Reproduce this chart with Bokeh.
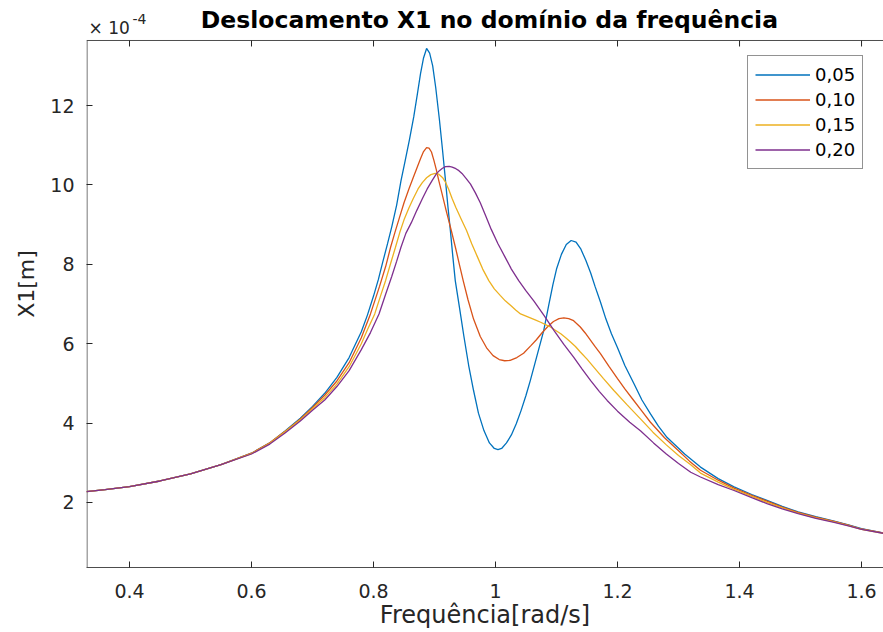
from bokeh.plotting import figure
from bokeh.models import Label, Legend, LegendItem, FixedTicker, Range1d
from bokeh.embed import file_html
from bokeh.resources import INLINE

# Frequency [rad/s] and amplitude of X1 (in units of 1e-4 m) for each damping ratio
freq_005 = [0.3295, 0.36, 0.40, 0.45, 0.50, 0.55, 0.60, 0.63, 0.655, 0.68, 0.70, 0.72, 0.74, 0.76,
            0.78, 0.79, 0.80, 0.808, 0.815, 0.823, 0.830, 0.838, 0.845, 0.852, 0.859, 0.866,
            0.872, 0.877, 0.882, 0.887, 0.892, 0.897, 0.902, 0.908, 0.913, 0.918, 0.922, 0.926,
            0.930, 0.934, 0.941, 0.948, 0.956, 0.964, 0.972, 0.981, 0.990, 0.998, 1.004, 1.010,
            1.018, 1.026, 1.034, 1.042, 1.050, 1.057, 1.068, 1.079, 1.087, 1.094, 1.100, 1.108,
            1.116, 1.124, 1.132, 1.140, 1.148, 1.156, 1.163, 1.172, 1.181, 1.190, 1.200, 1.212,
            1.227, 1.240, 1.254, 1.267, 1.281, 1.310, 1.336, 1.365, 1.391, 1.420, 1.445, 1.470,
            1.496, 1.525, 1.555, 1.580, 1.600, 1.636]
x1_005 = [2.27, 2.32, 2.40, 2.54, 2.72, 2.95, 3.24, 3.50, 3.80, 4.12, 4.42, 4.75, 5.15, 5.65,
          6.30, 6.72, 7.20, 7.62, 8.05, 8.52, 8.95, 9.50, 10.10, 10.62, 11.15, 11.72,
          12.30, 12.80, 13.20, 13.44, 13.32, 13.00, 12.45, 11.65, 10.90, 10.11, 9.45, 8.85,
          8.20, 7.59, 6.90, 6.20, 5.45, 4.82, 4.25, 3.81, 3.50, 3.36, 3.33, 3.36,
          3.50, 3.70, 3.98, 4.32, 4.70, 5.07, 5.70, 6.33, 6.95, 7.48, 7.88, 8.25,
          8.50, 8.60, 8.56, 8.38, 8.10, 7.78, 7.45, 7.05, 6.62, 6.25, 5.90, 5.45,
          4.99, 4.58, 4.23, 3.92, 3.64, 3.22, 2.89, 2.60, 2.39, 2.20, 2.05, 1.90,
          1.76, 1.64, 1.53, 1.43, 1.34, 1.23]

freq_010 = [0.3295, 0.36, 0.40, 0.45, 0.50, 0.55, 0.60, 0.63, 0.655, 0.68, 0.70, 0.72, 0.74, 0.76,
            0.78, 0.795, 0.81, 0.820, 0.828, 0.835, 0.842, 0.850, 0.858, 0.865, 0.871, 0.877,
            0.882, 0.887, 0.891, 0.895, 0.899, 0.903, 0.907, 0.912, 0.918, 0.923, 0.928, 0.935,
            0.941, 0.947, 0.955, 0.964, 0.975, 0.986, 0.996, 1.006, 1.015, 1.024, 1.035, 1.046,
            1.058, 1.067, 1.076, 1.085, 1.095, 1.104, 1.112, 1.120, 1.128, 1.139, 1.147, 1.155,
            1.163, 1.172, 1.186, 1.200, 1.212, 1.225, 1.240, 1.254, 1.277, 1.300, 1.318, 1.336,
            1.365, 1.391, 1.420, 1.445, 1.470, 1.496, 1.525, 1.555, 1.580, 1.600, 1.636]
x1_010 = [2.27, 2.32, 2.40, 2.54, 2.72, 2.95, 3.24, 3.50, 3.79, 4.10, 4.39, 4.70, 5.06, 5.52,
          6.15, 6.75, 7.45, 7.95, 8.43, 8.80, 9.15, 9.55, 9.90, 10.18, 10.42, 10.66,
          10.84, 10.94, 10.93, 10.83, 10.62, 10.38, 10.11, 9.80, 9.42, 9.12, 8.82, 8.38,
          7.98, 7.59, 7.10, 6.62, 6.18, 5.88, 5.70, 5.60, 5.57, 5.58, 5.65, 5.76,
          5.95, 6.10, 6.27, 6.42, 6.56, 6.63, 6.65, 6.63, 6.58, 6.42, 6.27, 6.10,
          5.93, 5.75, 5.43, 5.12, 4.86, 4.60, 4.30, 4.02, 3.63, 3.30, 3.04, 2.81,
          2.56, 2.36, 2.18, 2.03, 1.88, 1.75, 1.63, 1.52, 1.42, 1.33, 1.23]

freq_015 = [0.3295, 0.36, 0.40, 0.45, 0.50, 0.55, 0.60, 0.63, 0.655, 0.68, 0.70, 0.72, 0.74, 0.76,
            0.78, 0.790, 0.802, 0.811, 0.820, 0.828, 0.836, 0.843, 0.850, 0.858, 0.865, 0.873,
            0.880, 0.887, 0.894, 0.901, 0.907, 0.913, 0.918, 0.923, 0.929, 0.935, 0.944, 0.9525,
            0.961, 0.970, 0.979, 0.989, 0.998, 1.008, 1.016, 1.025, 1.033, 1.041, 1.049, 1.057,
            1.065, 1.074, 1.082, 1.090, 1.098, 1.107, 1.115, 1.123, 1.131, 1.139, 1.150, 1.161,
            1.177, 1.194, 1.215, 1.238, 1.258, 1.280, 1.300, 1.320, 1.336, 1.365, 1.391, 1.420,
            1.445, 1.470, 1.496, 1.525, 1.555, 1.580, 1.600, 1.636]
x1_015 = [2.27, 2.32, 2.40, 2.54, 2.72, 2.95, 3.23, 3.49, 3.78, 4.08, 4.36, 4.64, 4.98, 5.42,
          6.00, 6.35, 6.75, 7.18, 7.60, 8.02, 8.43, 8.80, 9.12, 9.42, 9.65, 9.90,
          10.06, 10.18, 10.26, 10.29, 10.27, 10.19, 10.07, 9.90, 9.65, 9.43, 9.13, 8.85,
          8.52, 8.20, 7.88, 7.59, 7.38, 7.21, 7.08, 6.96, 6.85, 6.75, 6.70, 6.65,
          6.60, 6.54, 6.48, 6.42, 6.34, 6.25, 6.15, 6.04, 5.93, 5.79, 5.61, 5.41,
          5.12, 4.82, 4.47, 4.10, 3.77, 3.45, 3.18, 2.95, 2.74, 2.51, 2.33, 2.15,
          2.00, 1.86, 1.73, 1.61, 1.51, 1.41, 1.32, 1.22]

freq_020 = [0.3295, 0.36, 0.40, 0.45, 0.50, 0.55, 0.60, 0.63, 0.655, 0.68, 0.70, 0.72, 0.74, 0.76,
            0.78, 0.795, 0.809, 0.820, 0.830, 0.838, 0.845, 0.853, 0.862, 0.871, 0.880, 0.888,
            0.896, 0.903, 0.908, 0.913, 0.918, 0.924, 0.929, 0.935, 0.940, 0.945, 0.952, 0.959,
            0.967, 0.975, 0.984, 0.993, 1.004, 1.015, 1.026, 1.038, 1.050, 1.063, 1.080, 1.096,
            1.112, 1.128, 1.142, 1.156, 1.170, 1.183, 1.200, 1.220, 1.238, 1.259, 1.280, 1.300,
            1.320, 1.336, 1.365, 1.391, 1.420, 1.445, 1.470, 1.496, 1.525, 1.555, 1.580, 1.600,
            1.636]
x1_020 = [2.27, 2.32, 2.40, 2.54, 2.72, 2.95, 3.22, 3.47, 3.75, 4.05, 4.32, 4.58, 4.92, 5.32,
          5.85, 6.28, 6.75, 7.25, 7.70, 8.08, 8.43, 8.78, 9.05, 9.36, 9.65, 9.90,
          10.11, 10.28, 10.36, 10.42, 10.46, 10.47, 10.45, 10.41, 10.36, 10.29, 10.16, 10.02,
          9.80, 9.55, 9.22, 8.88, 8.52, 8.20, 7.88, 7.59, 7.33, 7.07, 6.70, 6.33,
          5.98, 5.66, 5.36, 5.07, 4.80, 4.57, 4.30, 4.02, 3.80, 3.50, 3.22, 2.98,
          2.76, 2.64, 2.45, 2.30, 2.12, 1.97, 1.84, 1.72, 1.60, 1.50, 1.40, 1.32,
          1.22]

series_labels = ["0,05", "0,10", "0,15", "0,20"]
series_colors = ["#0072BD", "#D95319", "#EDB120", "#7E2F8E"]

x_ticks = [0.4, 0.6, 0.8, 1.0, 1.2, 1.4, 1.6]
x_tick_labels = ["0.4", "0.6", "0.8", "1", "1.2", "1.4", "1.6"]
y_ticks = [2, 4, 6, 8, 10, 12]
y_tick_labels = ["2", "4", "6", "8", "10", "12"]

# Axes box limits; the canvas frame extends above the box to hold the title
X_MIN, X_MAX = 0.3295, 1.636
Y_MIN, Y_MAX = 0.36, 13.64
PX_PER_Y = 39.685
Y_TOP = Y_MAX + 40 / PX_PER_Y

FONT = "DejaVu Sans"
AX_COLOR = "#262626"
BOX_COLOR = "#4d4d4d"

p = figure(width=883, height=632, output_backend="svg", toolbar_location=None, title=None,
           x_range=Range1d(X_MIN, X_MAX), y_range=Range1d(Y_MIN, Y_TOP),
           min_border_left=86, min_border_right=0, min_border_top=0, min_border_bottom=65)
p.outline_line_color = None
p.grid.visible = False
p.background_fill_color = "white"
p.border_fill_color = "white"


def style_axis(ax):
    ax.axis_line_color = BOX_COLOR
    ax.axis_line_width = 1
    ax.major_tick_line_color = AX_COLOR
    ax.major_tick_line_width = 1
    ax.major_tick_in = 6
    ax.major_tick_out = 0
    ax.minor_tick_line_color = None
    ax.major_label_text_font = FONT
    ax.major_label_text_font_size = "19px"
    ax.major_label_text_color = AX_COLOR
    ax.axis_label_text_font = FONT
    ax.axis_label_text_font_style = "normal"
    ax.axis_label_text_color = AX_COLOR


xax = p.xaxis[0]
xax.ticker = FixedTicker(ticks=x_ticks)
xax.major_label_overrides = dict(zip(x_ticks, x_tick_labels))
xax.axis_label = "Frequência[rad/s]"
style_axis(xax)
xax.axis_label_text_font_size = "24px"
xax.major_label_standoff = 16
xax.axis_label_standoff = 0

yax = p.yaxis[0]
yax.ticker = FixedTicker(ticks=y_ticks)
yax.major_label_overrides = dict(zip(y_ticks, y_tick_labels))
yax.axis_label = "X1[m]"
style_axis(yax)
yax.axis_line_color = None
yax.axis_label_text_font_size = "22px"
yax.major_label_standoff = 12
yax.axis_label_standoff = 8

# Box edges on the left and top of the axes, with inward ticks along the top
px_x = (X_MAX - X_MIN) / 797
p.segment(x0=[X_MIN + 0.5 * px_x], y0=[Y_MIN], x1=[X_MIN + 0.5 * px_x], y1=[Y_MAX],
          line_color=BOX_COLOR, line_width=1)
p.segment(x0=[X_MIN], y0=[Y_MAX], x1=[X_MAX], y1=[Y_MAX], line_color=BOX_COLOR, line_width=1)
p.segment(x0=x_ticks, y0=[Y_MAX] * len(x_ticks), x1=x_ticks,
          y1=[Y_MAX - 6 / PX_PER_Y] * len(x_ticks), line_color=AX_COLOR, line_width=1)

items = []
for f, v, lab, col in zip([freq_005, freq_010, freq_015, freq_020],
                          [x1_005, x1_010, x1_015, x1_020],
                          series_labels, series_colors):
    r = p.line(f, v, line_color=col, line_width=1.3)
    items.append(LegendItem(label=lab, renderers=[r]))

legend = Legend(items=items, location=(661, 398))
legend.border_line_color = AX_COLOR
legend.border_line_width = 1
legend.background_fill_color = "white"
legend.background_fill_alpha = 1
legend.padding = 7
legend.spacing = 2
legend.margin = 0
legend.glyph_width = 55
legend.glyph_height = 23
legend.label_height = 23
legend.label_standoff = 5
legend.label_text_font = FONT
legend.label_text_font_size = "18px"
legend.label_text_color = "black"
legend.label_text_baseline = "middle"
p.add_layout(legend)

# Title and the exponent multiplier of the y axis
p.add_layout(Label(x=0.990, y=Y_MAX + 20 / PX_PER_Y, text="Deslocamento X1 no domínio da frequência",
                   text_align="center", text_baseline="alphabetic",
                   text_font=FONT, text_font_size="23.5px", text_font_style="bold",
                   text_color="black"))
p.add_layout(Label(x=X_MIN + 2 * px_x, y=Y_MAX + 12 / PX_PER_Y, text="× 10", text_align="left",
                   text_baseline="alphabetic", text_font=FONT, text_font_size="17px",
                   text_color=AX_COLOR))
p.add_layout(Label(x=X_MIN + 46 * px_x, y=Y_MAX + 21 / PX_PER_Y, text="-4", text_align="left",
                   text_baseline="alphabetic", text_font=FONT, text_font_size="14px",
                   text_color=AX_COLOR))

open("out.html", "w").write(file_html(p, INLINE))
